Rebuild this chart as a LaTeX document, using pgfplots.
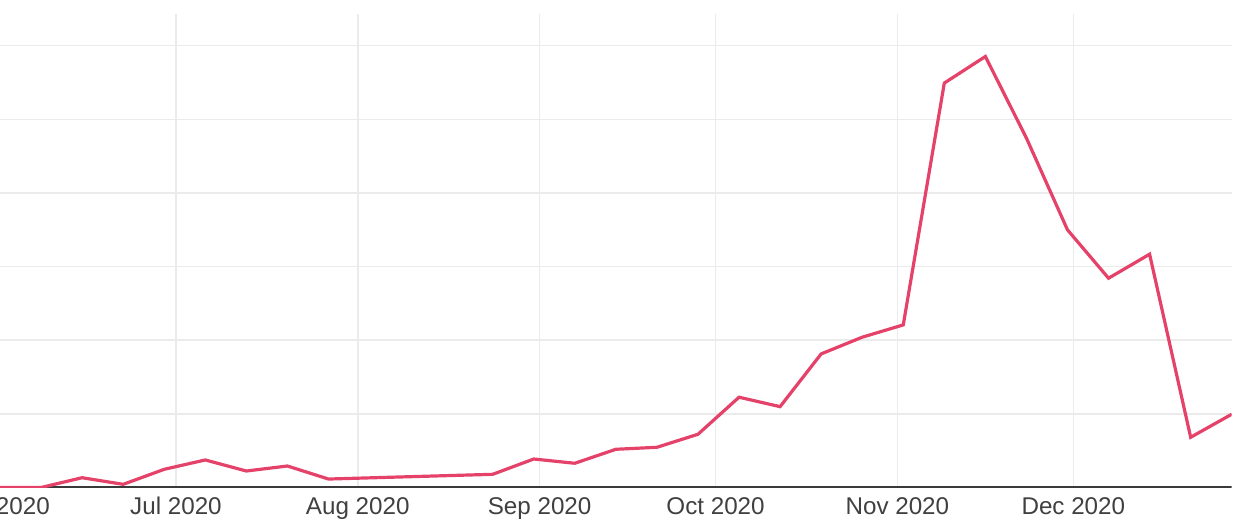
\documentclass[border=0pt]{standalone}
\usepackage{fontspec}
\setmainfont{Liberation Sans}
\usepackage{pgfplots}
\pgfplotsset{compat=1.18}
\definecolor{linered}{HTML}{E5426A}
\definecolor{gridgray}{HTML}{EBEBEB}
\definecolor{axisgray}{HTML}{3A3A3A}
\definecolor{labelgray}{HTML}{404040}
\begin{document}
\begin{tikzpicture}
\begin{axis}[
  at={(0,0)}, anchor=south west,
  scale only axis,
  width=615.85pt, height=236.75pt,
  xmin=0, xmax=210, ymin=0, ymax=6.43,
  axis line style={draw=none},
  xtick={30,61,92,122,153,183},
  xticklabels={Jul 2020,Aug 2020,Sep 2020,Oct 2020,Nov 2020,Dec 2020},
  extra x ticks={0},
  extra x tick labels={Jun 2020},
  extra x tick style={grid=none},
  ytick={1,2,3,4,5,6},
  yticklabels={},
  major tick length=0pt,
  xmajorgrids, ymajorgrids,
  grid style={color=gridgray, line width=0.75pt},
  xticklabel style={font=\fontsize{12.1}{14}\selectfont, text=labelgray, text height=9.2pt, text depth=2.5pt, yshift=-1pt},
]
\addplot[axisgray, line width=1.2pt, forget plot] coordinates {(0,0) (210,0)};
\addplot[linered, line width=1.6pt, line join=miter] coordinates {
(0,0) (7,0) (14,0.133) (21,0.043) (28,0.247) (35,0.374) (42,0.224) (49,0.292) (56,0.115)
(84,0.179) (91,0.387) (98,0.329) (105,0.519) (112,0.546) (119,0.723) (126,1.226) (133,1.098)
(140,1.814) (147,2.041) (154,2.208) (161,5.492) (168,5.853) (175,4.745) (182,3.499)
(189,2.842) (196,3.168) (203,0.682) (210,0.995)
};
\end{axis}
\pgfresetboundingbox
\path[use as bounding box] (0,-21.25pt) rectangle (628pt,243.75pt);
\end{tikzpicture}
\end{document}
